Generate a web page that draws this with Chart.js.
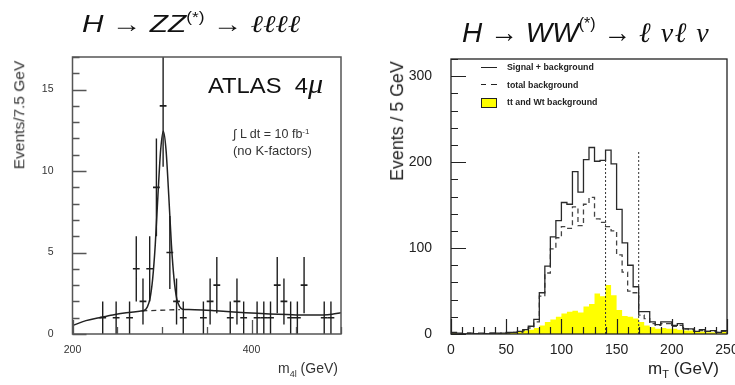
<!DOCTYPE html>
<html><head><meta charset="utf-8">
<script src="https://cdn.jsdelivr.net/npm/chart.js@4.4.1/dist/chart.umd.min.js"></script>
<style>
html,body{margin:0;padding:0;width:735px;height:385px;overflow:hidden;background:#fff;position:relative;font-family:"Liberation Sans",Arial,sans-serif;}
canvas{position:absolute;top:0;}
#c1{left:0;}
#c2{left:370px;}
.t{position:absolute;white-space:nowrap;line-height:1;color:#111;}
.ell{font-family:"Liberation Serif","DejaVu Serif",serif;font-style:italic;}
.lg{position:absolute;white-space:nowrap;line-height:1;font-size:8.8px;font-weight:bold;color:#222;font-family:"Liberation Sans",Arial,sans-serif;}
.rot{position:absolute;white-space:nowrap;line-height:1;transform:translate(-50%,-50%) rotate(-90deg);}
</style></head>
<body>
<canvas id="c1" width="370" height="385"></canvas>
<canvas id="c2" width="400" height="385"></canvas>

<div class="t" style="left:82px;top:12px;font-size:24px;transform:scaleX(1.24);transform-origin:0 0;"><i>H</i> → <i>ZZ</i><sup style="font-size:14px;position:relative;top:-2px;vertical-align:top;">(*)</sup> → <span class="ell">ℓℓℓℓ</span></div>
<div class="t" style="left:462px;top:19px;font-size:28px;"><i>H</i> → <i>WW</i><sup style="font-size:16px;position:relative;top:-3px;vertical-align:top;">(*)</sup> → <span class="ell" style="letter-spacing:1.5px;">ℓ νℓ ν</span></div>

<div class="t" style="left:208px;top:70px;font-size:22px;transform:scaleX(1.08);transform-origin:0 0;">ATLAS&nbsp; 4<span class="ell" style="font-size:28px;">μ</span></div>
<div class="t" style="left:233px;top:128px;font-size:12.5px;color:#333;">∫ L dt = 10 fb<sup style="font-size:8px;vertical-align:top;">-1</sup></div>
<div class="t" style="left:233px;top:144px;font-size:13px;color:#333;">(no K-factors)</div>

<div class="rot" style="left:19px;top:115px;font-size:15.5px;color:#333;">Events/7.5 GeV</div>
<div class="t" style="left:278px;top:361px;font-size:14px;color:#333;">m<sub style="font-size:9px;">4l</sub> (GeV)</div>

<div class="rot" style="left:398px;top:121px;font-size:17.8px;color:#222;">Events / 5 GeV</div>
<div class="t" style="left:648px;top:360px;font-size:17px;color:#222;">m<sub style="font-size:11px;">T</sub> (GeV)</div>

<div style="position:absolute;left:481px;top:67px;width:16px;height:0;border-top:1.2px solid #222;"></div>
<div class="lg" style="left:507px;top:63px;">Signal + background</div>
<div style="position:absolute;left:481px;top:84px;width:5px;height:0;border-top:1.2px solid #222;"></div>
<div style="position:absolute;left:491px;top:84px;width:6px;height:0;border-top:1.2px solid #222;"></div>
<div class="lg" style="left:507px;top:80.5px;">total background</div>
<div style="position:absolute;left:481px;top:98px;width:14px;height:8px;background:#ffff00;border:1px solid #222;"></div>
<div class="lg" style="left:507px;top:98px;">tt and Wt background</div>

<script>
// ---------- Left panel: H -> ZZ(*) -> 4l ----------
const zzMass   = [233.75,248.75,263.75,271.25,278.75,286.25,293.75,301.25,308.75,316.25,323.75,346.25,353.75,361.25,376.25,383.75,391.25,406.25,413.75,421.25,428.75,436.25,443.75,451.25,458.75,481.25,488.75];
const zzEvents = [1,1,1,4,2,4,9,14,5,2,1,1,2,3,1,2,1,1,1,1,3,2,1,1,3,1,1];
const zzErr    = [1,1,1,2,1.41,2,3,3.74,2.24,1.41,1,1,1.41,1.73,1,1.41,1,1,1,1,1.73,1.41,1,1,1.73,1,1];
const zzBinWidth = 7.5;
const zzFitX = [200,215,230,245,260,275,280,283.5,286.5,289.5,292.5,295.5,298.5,301.5,304.5,307.5,310.5,313.5,316.5,319.5,323,330,345,360,380,400,420,440,460,480,490,500];
const zzFitY = [0.52,0.82,1.0,1.17,1.3,1.4,1.44,1.65,2.15,3.35,5.5,8.55,11.3,12.45,11.3,8.55,5.5,3.35,2.15,1.7,1.52,1.5,1.47,1.42,1.35,1.29,1.23,1.19,1.16,1.17,1.21,1.3];
const zzBkgX = [278,320];
const zzBkgY = [1.42,1.5];
const zzXTicks = [200,400];
const zzYTicks = [0,5,10,15];

// ---------- Right panel: H -> WW(*) -> lvlv ----------
const mtBinWidth = 5;
const mtTicks = [0,50,100,150,200,250];
const evTicks = [0,100,200,300];
const mtSigBkg = [2,1,0,1,0,1,0,1,1,1, 2,2,3,5,9,17,48,79,113,132, 153,151,189,165,203,217,201,202,214,198, 145,106,80,55,26,26,14,11,14,14, 10,12,6,6,3,5,3,4,2,4];
const mtTotBkg = [1,0,0,1,0,0,0,1,0,1, 1,2,2,4,7,14,44,71,99,112, 125,123,148,126,151,159,134,130,125,120, 92,72,50,48,22,18,12,10,12,12, 9,10,6,5,3,4,3,3,2,3];
const mtTopBkg = [1,0,0,0,0,0,0,0,1,1, 2,2,3,4,5,7,10,14,17,20, 24,26,27,25,32,35,47,44,57,45, 28,21,20,18,14,10,8,6,7,6, 6,5,4,4,3,3,2,2,1,3];
const mtCuts = [140,170];
const mtCutTops = [205,212];

const FONT = "'Liberation Sans', Arial, sans-serif";

function framePlugin(cfg){
  return {
    id:'frame'+cfg.id,
    afterDraw(chart){
      const {ctx, chartArea:a, scales:{x, y}} = chart;
      ctx.save();
      ctx.strokeStyle = cfg.color; ctx.lineWidth = cfg.lw;
      ctx.strokeRect(a.left, a.top, a.right-a.left, a.bottom-a.top);
      ctx.lineWidth = cfg.tlw;
      ctx.beginPath();
      for(let v=y.min; v<=y.max+1e-9; v+=cfg.yMinor){
        const p = Math.round(y.getPixelForValue(v))+0.5;
        const major = Math.abs(v/cfg.yMajor - Math.round(v/cfg.yMajor))<1e-6;
        const len = major?cfg.majLen:cfg.minLen;
        ctx.moveTo(a.left, p); ctx.lineTo(a.left+len, p);
      }
      for(let v=x.min; v<=x.max+1e-9; v+=cfg.xMinor){
        const p = Math.round(x.getPixelForValue(v))+0.5;
        const major = Math.abs(v/cfg.xMajor - Math.round(v/cfg.xMajor))<1e-6;
        const len = major?cfg.majLen:cfg.minLen;
        ctx.moveTo(p, a.bottom); ctx.lineTo(p, a.bottom-len);
      }
      ctx.stroke();
      ctx.restore();
    }
  };
}

const errPlugin = {
  id:'errbars',
  afterDatasetsDraw(chart){
    const {ctx, chartArea:a, scales:{x, y}} = chart;
    ctx.save();
    ctx.beginPath(); ctx.rect(a.left, a.top, a.right-a.left, a.bottom-a.top); ctx.clip();
    ctx.strokeStyle = '#1e1e1e'; ctx.lineWidth = 1.4;
    ctx.beginPath();
    zzMass.forEach((m,i)=>{
      const px = x.getPixelForValue(m);
      ctx.moveTo(px, y.getPixelForValue(Math.max(0, zzEvents[i]-zzErr[i])));
      ctx.lineTo(px, y.getPixelForValue(zzEvents[i]+zzErr[i]));
    });
    ctx.stroke();
    ctx.restore();
  }
};

function tickCfg(size, pad, color){
  return {padding:pad, font:{family:FONT, size:size}, color:color, maxRotation:0, autoSkip:false};
}

new Chart(document.getElementById('c1'), {
  type:'line',
  data:{datasets:[
    {data: zzFitX.map((v,i)=>({x:v, y:zzFitY[i]})), borderColor:'#222', borderWidth:1.5, pointRadius:0, cubicInterpolationMode:'monotone', order:2},
    {data: zzBkgX.map((v,i)=>({x:v, y:zzBkgY[i]})), borderColor:'#333', borderWidth:1.3, borderDash:[5,4], pointRadius:0, order:3},
    {type:'scatter', data: zzMass.map((v,i)=>({x:v, y:zzEvents[i]})), showLine:false, pointStyle:'line',
     pointRadius: 3.4, borderColor:'#1e1e1e', pointBorderWidth:1.6, borderWidth:1.6, order:1}
  ]},
  options:{
    responsive:false, animation:false, events:[],
    layout:{padding:{left:0, top:57, right:29, bottom:0}},
    plugins:{legend:{display:false}, tooltip:{enabled:false}},
    scales:{
      x:{type:'linear', min:200, max:500, grid:{display:false, drawTicks:false}, border:{display:false},
         ticks:tickCfg(10.5, 10, '#333'),
         afterBuildTicks:s=>{s.ticks = zzXTicks.map(v=>({value:v}));},
         afterFit:s=>{s.height = 51;}},
      y:{type:'linear', min:0, max:17, grid:{display:false, drawTicks:false}, border:{display:false},
         ticks:tickCfg(10.5, 19, '#333'),
         afterBuildTicks:s=>{s.ticks = zzYTicks.map(v=>({value:v}));},
         afterFit:s=>{s.width = 72.5;}}
    }
  },
  plugins:[errPlugin, framePlugin({id:1, color:'#555', lw:1.5, tlw:1.3, yMinor:1, yMajor:5, xMinor:50, xMajor:200, majLen:14, minLen:7})]
});

function hist(vals){
  const pts = vals.map((v,i)=>({x:i*mtBinWidth, y:v}));
  pts.push({x:vals.length*mtBinWidth, y:vals[vals.length-1]});
  return pts;
}

new Chart(document.getElementById('c2'), {
  type:'line',
  data:{datasets:[
    {data: hist(mtTopBkg), stepped:true, fill:'origin', backgroundColor:'#ffff00', borderColor:'rgba(0,0,0,0)', borderWidth:0, pointRadius:0, order:5},
    {data: hist(mtTotBkg), stepped:true, borderColor:'#444', borderWidth:1.3, borderDash:[5,3.5], pointRadius:0, order:3},
    {data: hist(mtSigBkg), stepped:true, borderColor:'#2a2a2a', borderWidth:1.3, pointRadius:0, order:2},
    {data: [{x:mtCuts[0], y:0},{x:mtCuts[0], y:mtCutTops[0]}], borderColor:'#333', borderWidth:1, borderDash:[2,2], pointRadius:0, order:1},
    {data: [{x:mtCuts[1], y:0},{x:mtCuts[1], y:mtCutTops[1]}], borderColor:'#333', borderWidth:1, borderDash:[2,2], pointRadius:0, order:1}
  ]},
  options:{
    responsive:false, animation:false, events:[],
    layout:{padding:{left:0, top:59, right:43, bottom:0}},
    plugins:{legend:{display:false}, tooltip:{enabled:false}},
    scales:{
      x:{type:'linear', min:0, max:250, grid:{display:false, drawTicks:false}, border:{display:false},
         ticks:tickCfg(14, 8, '#222'),
         afterBuildTicks:s=>{s.ticks = mtTicks.map(v=>({value:v}));},
         afterFit:s=>{s.height = 51;}},
      y:{type:'linear', min:0, max:320, grid:{display:false, drawTicks:false}, border:{display:false},
         ticks:tickCfg(14, 19, '#222'),
         afterBuildTicks:s=>{s.ticks = evTicks.map(v=>({value:v}));},
         afterFit:s=>{s.width = 81;}}
    }
  },
  plugins:[framePlugin({id:2, color:'#222', lw:1.3, tlw:1.2, yMinor:20, yMajor:100, xMinor:10, xMajor:50, majLen:15, minLen:7})]
});
</script>
</body></html>
